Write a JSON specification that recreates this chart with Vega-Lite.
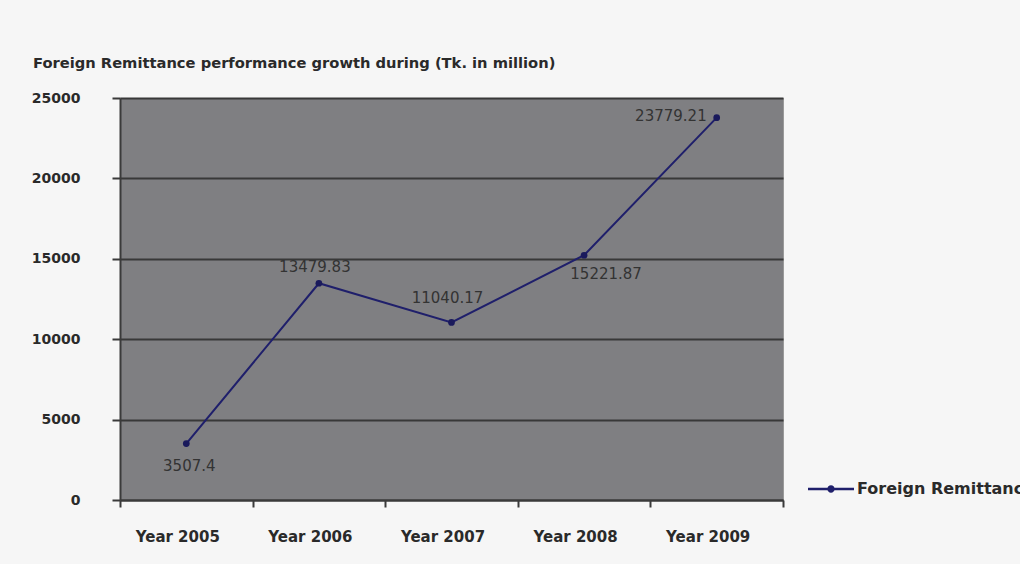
{
  "$schema": "https://vega.github.io/schema/vega-lite/v6.json",
  "width": 663,
  "height": 402,
  "autosize": {"type": "none"},
  "padding": {"left": 120, "top": 98, "right": 237, "bottom": 64},
  "background": "#f6f6f6",
  "title": {
    "text": "Foreign Remittance performance growth during (Tk. in million)",
    "anchor": "start",
    "frame": "group",
    "dx": -87,
    "offset": 20,
    "font": "DejaVu Sans",
    "fontSize": 14.7,
    "fontWeight": "bold",
    "color": "#2a2a2a"
  },
  "config": {
    "view": {"fill": "#7f7f82", "stroke": "#9a9a9a", "strokeWidth": 1},
    "font": "DejaVu Sans"
  },
  "data": {
    "values": [
      {"year": "Year 2005", "value": 3507.4, "series": "Foreign Remittance"},
      {"year": "Year 2006", "value": 13479.83, "series": "Foreign Remittance"},
      {"year": "Year 2007", "value": 11040.17, "series": "Foreign Remittance"},
      {"year": "Year 2008", "value": 15221.87, "series": "Foreign Remittance"},
      {"year": "Year 2009", "value": 23779.21, "series": "Foreign Remittance"}
    ]
  },
  "encoding": {
    "x": {
      "field": "year",
      "type": "nominal",
      "sort": null,
      "scale": {"paddingInner": 0, "paddingOuter": 0},
      "axis": {
        "title": null,
        "labelAngle": 0,
        "tickBand": "extent",
        "tickSize": 7,
        "tickWidth": 2,
        "tickColor": "#3a3a3a",
        "domainColor": "#3a3a3a",
        "domainWidth": 2,
        "labelPadding": 22,
        "labelOffset": -9,
        "labelFont": "DejaVu Sans",
        "labelFontSize": 15,
        "labelFontWeight": "bold",
        "labelColor": "#2a2a2a",
        "grid": false
      }
    },
    "y": {
      "field": "value",
      "type": "quantitative",
      "scale": {"domain": [0, 25000], "nice": false},
      "axis": {
        "title": null,
        "values": [0, 5000, 10000, 15000, 20000, 25000],
        "format": "d",
        "tickSize": 8,
        "tickWidth": 2,
        "tickColor": "#3a3a3a",
        "domainColor": "#3a3a3a",
        "domainWidth": 2,
        "labelPadding": 32,
        "labelFont": "DejaVu Sans",
        "labelFontSize": 14,
        "labelFontWeight": "bold",
        "labelColor": "#2a2a2a",
        "grid": true,
        "gridColor": "#383838",
        "gridWidth": 2,
        "gridOpacity": 1
      }
    }
  },
  "layer": [
    {
      "mark": {"type": "line", "strokeWidth": 2},
      "encoding": {
        "color": {
          "field": "series",
          "type": "nominal",
          "scale": {"range": ["#1f1f6b"]},
          "legend": {
            "title": null,
            "orient": "none",
            "legendX": 688,
            "legendY": 368,
            "padding": 0,
            "symbolType": "M-1,-0.05L1,-0.05L1,0.05L-1,0.05Z M-0.16,0A0.16,0.16 0 1,1 0.16,0A0.16,0.16 0 1,1 -0.16,0Z",
            "symbolSize": 2116,
            "labelFont": "DejaVu Sans",
            "labelFontSize": 16,
            "labelFontWeight": "bold",
            "labelColor": "#2a2a2a",
            "labelOffset": 3,
            "labelLimit": 400,
            "encode": {
              "symbols": {
                "update": {
                  "fill": {"value": "#1f1f6b"},
                  "stroke": {"value": "#1f1f6b"},
                  "strokeWidth": {"value": 0},
                  "opacity": {"value": 1}
                }
              }
            }
          }
        }
      }
    },
    {
      "mark": {"type": "point", "filled": true, "size": 45, "color": "#1a1a5c", "opacity": 1}
    },
    {
      "transform": [{"filter": "datum.year === 'Year 2005'"}],
      "mark": {"type": "text", "dy": 22, "dx": 3, "fontSize": 15, "color": "#333333", "font": "DejaVu Sans"},
      "encoding": {"text": {"field": "value", "type": "quantitative", "format": ".1f"}}
    },
    {
      "transform": [{"filter": "datum.year === 'Year 2006'"}],
      "mark": {"type": "text", "dy": -16, "dx": -4, "fontSize": 15, "color": "#333333", "font": "DejaVu Sans"},
      "encoding": {"text": {"field": "value", "type": "quantitative", "format": ".2f"}}
    },
    {
      "transform": [{"filter": "datum.year === 'Year 2007'"}],
      "mark": {"type": "text", "dy": -24, "dx": -4, "fontSize": 15, "color": "#333333", "font": "DejaVu Sans"},
      "encoding": {"text": {"field": "value", "type": "quantitative", "format": ".2f"}}
    },
    {
      "transform": [{"filter": "datum.year === 'Year 2008'"}],
      "mark": {"type": "text", "dy": 19, "dx": 22, "fontSize": 15, "color": "#333333", "font": "DejaVu Sans"},
      "encoding": {"text": {"field": "value", "type": "quantitative", "format": ".2f"}}
    },
    {
      "transform": [{"filter": "datum.year === 'Year 2009'"}],
      "mark": {"type": "text", "dy": -2, "dx": -10, "align": "right", "fontSize": 15, "color": "#333333", "font": "DejaVu Sans"},
      "encoding": {"text": {"field": "value", "type": "quantitative", "format": ".2f"}}
    }
  ]
}
